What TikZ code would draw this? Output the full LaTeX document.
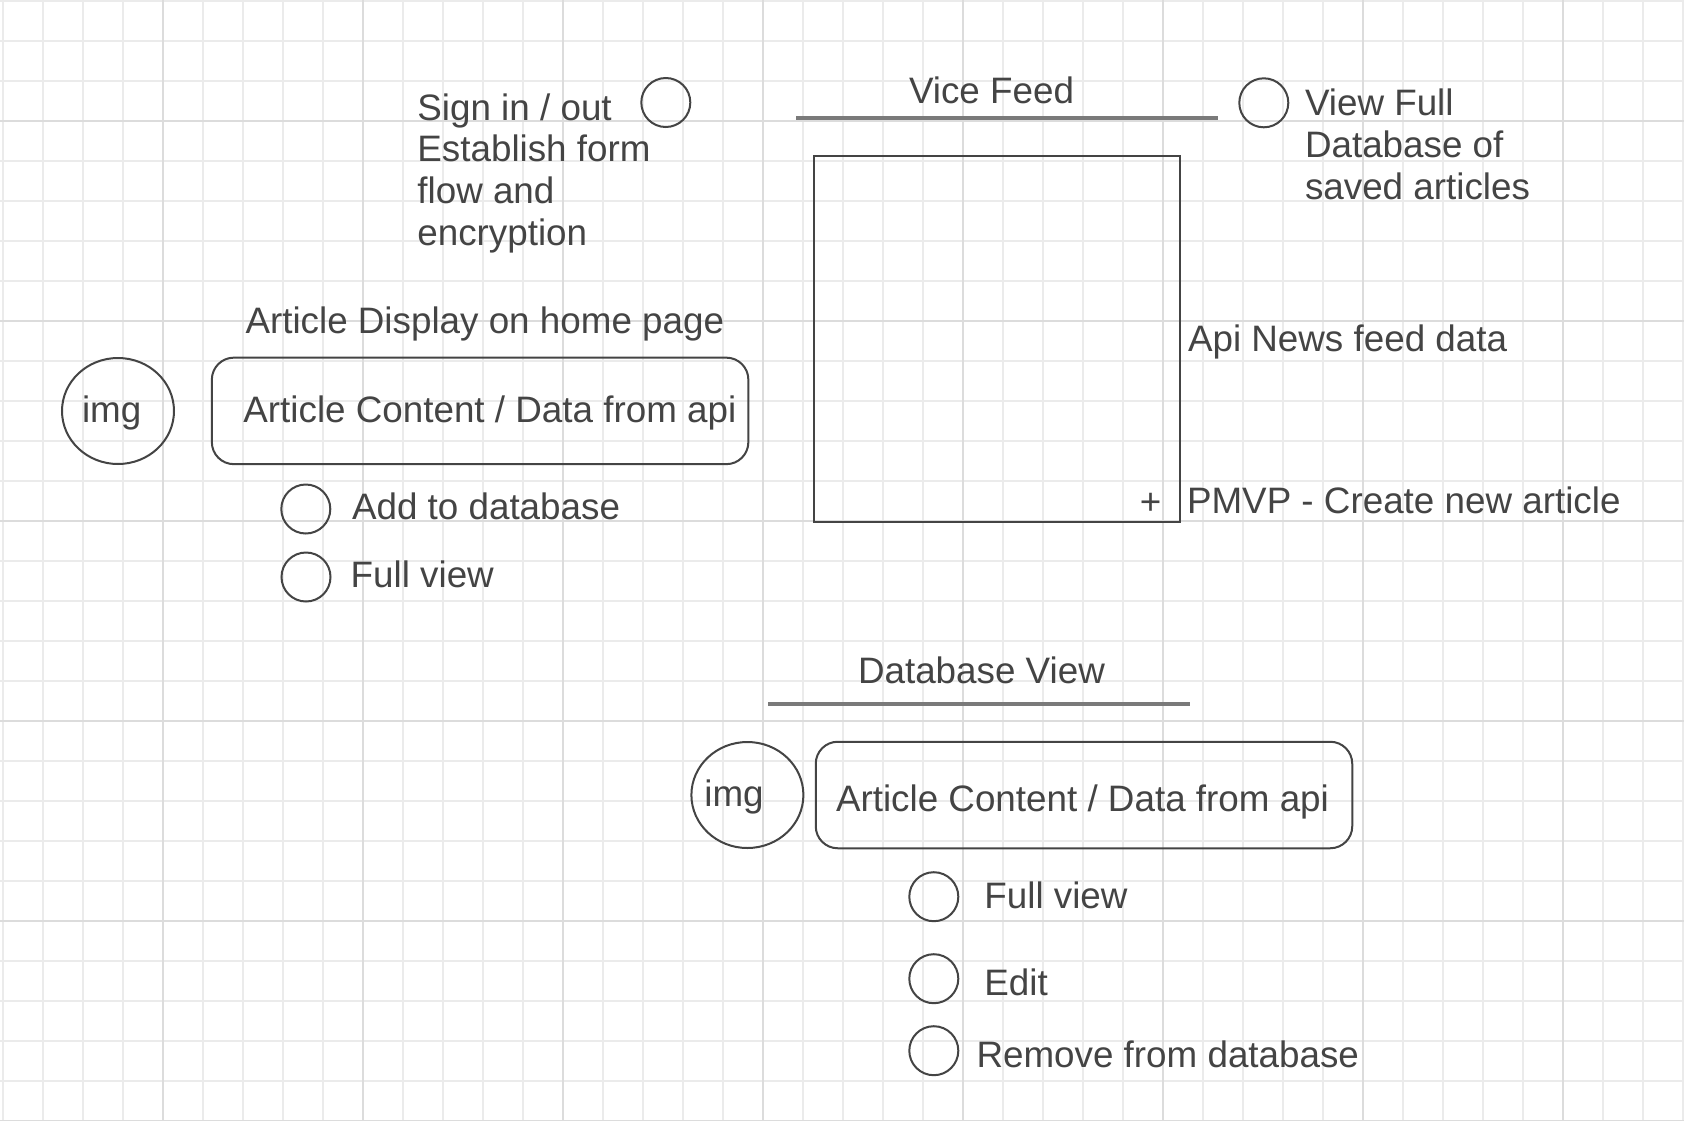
\documentclass[tikz,border=0pt]{standalone}
\usepackage{fontspec}
\setmainfont{Liberation Sans}
\usetikzlibrary{shapes.geometric}
\definecolor{ink}{HTML}{444444}
\definecolor{bargray}{HTML}{7A7A7A}
\definecolor{gridminor}{HTML}{EBEBEB}
\definecolor{gridmajor}{HTML}{DCDCDC}
\tikzset{
  lbl/.style={inner sep=0pt, outer sep=0pt, text=ink, font=\fontsize{36.8}{41.7}\selectfont, anchor=base west},
  btn/.style={circle, draw=ink, line width=2pt, minimum size=49pt, inner sep=0pt},
  imgshape/.style={ellipse, draw=ink, line width=2pt, minimum width=112pt, minimum height=106pt, inner sep=0pt},
  card/.style={rectangle, rounded corners=22pt, draw=ink, line width=2pt, minimum width=536.5pt, minimum height=106.5pt, inner sep=0pt},
  feedbox/.style={rectangle, draw=ink, line width=2pt, minimum width=366pt, minimum height=366pt, inner sep=0pt},
  bar/.style={draw=bargray, line width=4pt},
  gminor/.style={draw=gridminor, line width=1.8pt},
  gmajor/.style={draw=gridmajor, line width=1.8pt},
}
\begin{document}
\begin{tikzpicture}[x=1pt,y=-1pt]
\useasboundingbox (0,0) rectangle (1684,1120);
\fill[white] (0,0) rectangle (1684,1120);
% grid
\foreach \i in {0,...,42} \draw[gminor] (2.7+40*\i,0) -- (2.7+40*\i,1120);
\foreach \j in {0,...,28} \draw[gminor] (0,1+40*\j) -- (1684,1+40*\j);
\foreach \i in {4,9,...,39} \draw[gmajor] (2.7+40*\i,0) -- (2.7+40*\i,1120);
\foreach \j in {3,8,...,28} \draw[gmajor] (0,1+40*\j) -- (1684,1+40*\j);

% top left: sign in (base = baseline of last line)
\node[lbl, align=left] (signtxt) at (417.4,245.1) {Sign in / out\\Establish form\\flow and\\encryption};
\node[btn] (signbtn) at (665.8,102.5) {};

% Vice feed
\node[lbl] (vicetitle) at (909,103) {Vice Feed};
\coordinate (vbarL) at (796,118);
\coordinate (vbarR) at (1218,118);
\draw[bar] (vbarL) -- (vbarR);
\node[feedbox] (feed) at (997,339) {};
\node[lbl, anchor=base] (plus) at (1150.5,514.5) {+};
\node[lbl] (apitxt) at (1188,351.7) {Api News feed data};
\node[lbl] (pmvptxt) at (1187,513) {PMVP - Create new article};

% view full database
\node[btn] (viewbtn) at (1263.8,102.8) {};
\node[lbl, align=left] (viewtxt) at (1305,199.1) {View Full\\Database of\\saved articles};

% article display on home page
\node[lbl] (homettl) at (245.5,333.3) {Article Display on home page};
\node[imgshape] (img1) at (118,411) {};
\node[lbl] (img1txt) at (82,422.7) {img};
\node[card] (card1) at (480.1,410.9) {};
\node[lbl] (card1txt) at (243.4,422.7) {Article Content / Data from api};
\node[btn] (addbtn) at (305.8,509) {};
\node[lbl] (addtxt) at (352,519) {Add to database};
\node[btn] (full1btn) at (306,577) {};
\node[lbl] (full1txt) at (350.7,587) {Full view};

% database view
\node[lbl] (dbttl) at (858,683.3) {Database View};
\coordinate (dbarL) at (768,704);
\coordinate (dbarR) at (1190,704);
\draw[bar] (dbarL) -- (dbarR);
\node[imgshape] (img2) at (747.4,795) {};
\node[lbl] (img2txt) at (704.4,806.7) {img};
\node[card] (card2) at (1084,795) {};
\node[lbl] (card2txt) at (836,811.7) {Article Content / Data from api};
\node[btn] (full2btn) at (933.8,896.7) {};
\node[lbl] (full2txt) at (984.4,908.3) {Full view};
\node[btn] (editbtn) at (933.8,978.7) {};
\node[lbl] (edittxt) at (984.4,995.7) {Edit};
\node[btn] (rmbtn) at (933.8,1050.7) {};
\node[lbl] (rmtxt) at (976.5,1067.3) {Remove from database};
\end{tikzpicture}
\end{document}
